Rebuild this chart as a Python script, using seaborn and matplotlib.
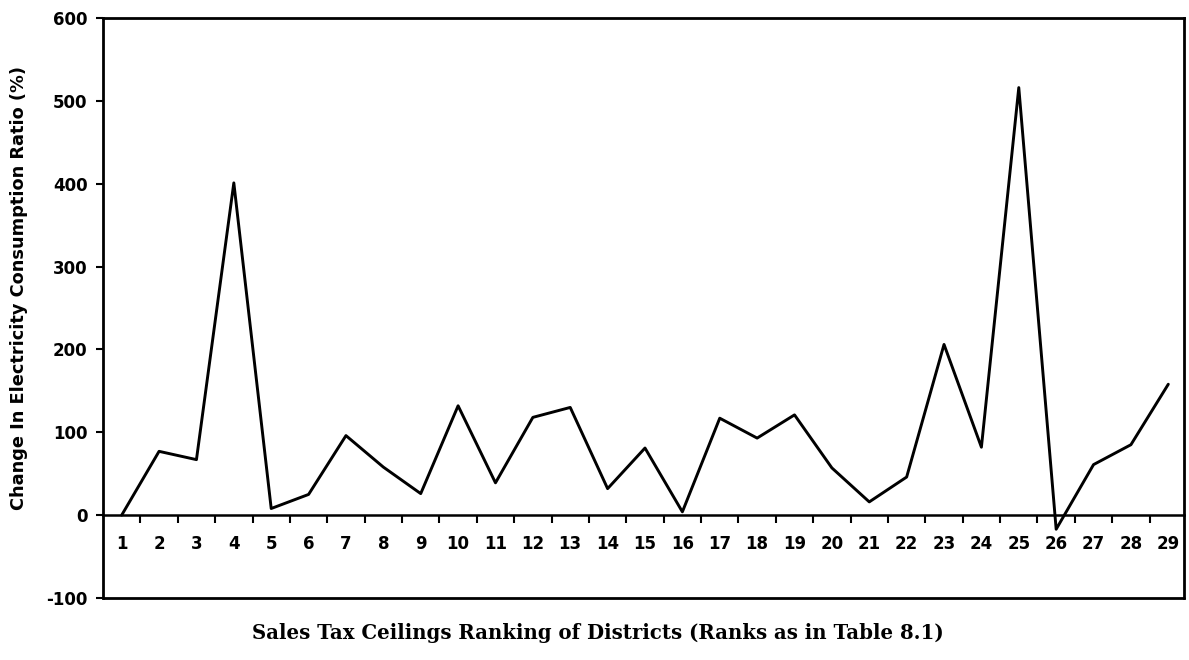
import numpy as np
import pandas as pd
import matplotlib
matplotlib.use("Agg")
import matplotlib.pyplot as plt
import seaborn as sns
from matplotlib.ticker import FixedLocator

# Data
ranks = list(range(1, 30))
change_pct = [0, 77, 67, 401, 8, 25, 96, 58, 26, 132, 39, 118, 130, 32, 81,
              4, 117, 93, 121, 57, 16, 46, 206, 82, 516, -17, 61, 85, 158]
y_ticks = [-100, 0, 100, 200, 300, 400, 500, 600]
x_label = "Sales Tax Ceilings Ranking of Districts (Ranks as in Table 8.1)"
y_label = "Change In Electricity Consumption Ratio (%)"

df = pd.DataFrame({"rank": ranks, "change": change_pct})

sns.set_style("white")
plt.rcParams['font.family'] = ['DejaVu Sans']
plt.rcParams['text.color'] = 'black'
plt.rcParams['xtick.color'] = 'black'
plt.rcParams['ytick.color'] = 'black'
plt.rcParams['axes.labelcolor'] = 'black'

fig = plt.figure(figsize=(11.89, 6.60), dpi=100)
ax = fig.add_axes([103/1189, 1 - 598/660, (1184 - 103)/1189, (598 - 18)/660])

sns.lineplot(data=df, x="rank", y="change", ax=ax, color="black", linewidth=2.1,
             estimator=None, sort=False)

ax.set_xlim(0.5, 29.42)
ax.set_ylim(-100, 600)

# frame
for side in ["left", "right", "top"]:
    ax.spines[side].set_visible(True)
    ax.spines[side].set_color("black")
    ax.spines[side].set_linewidth(2.0)
ax.spines["bottom"].set_position(("data", 0))
ax.spines["bottom"].set_linewidth(1.8)
ax.spines["bottom"].set_color("black")
ax.axhline(-100, color="black", linewidth=2.0, clip_on=False)

# x ticks: labels at categories, tick marks between categories
ax.xaxis.set_major_locator(FixedLocator(ranks))
ax.set_xticklabels([str(r) for r in ranks], fontsize=12, fontweight="heavy")
ax.xaxis.set_minor_locator(FixedLocator([r + 0.5 for r in ranks[:-1]]))
ax.tick_params(axis="x", which="major", length=0, pad=14)
ax.tick_params(axis="x", which="minor", length=6, width=1.5, direction="out",
               color="black", bottom=True)

# y ticks
ax.set_yticks(y_ticks)
ax.set_yticklabels([str(v) for v in y_ticks], fontsize=12, fontweight="heavy")
ax.tick_params(axis="y", which="major", length=5, width=1.5, direction="out",
               color="black", left=True, pad=6)

ax.set_xlabel("")
ax.set_ylabel(y_label, fontsize=12.8, fontweight="bold")
ax.yaxis.set_label_coords(-0.069, 0.535)

fig.text(598/1189, 1 - 633/660, x_label, ha="center", va="center",
         fontsize=14.2, fontweight="bold", family=["DejaVu Serif"])

fig.savefig("out.png", dpi=100, facecolor="white")
